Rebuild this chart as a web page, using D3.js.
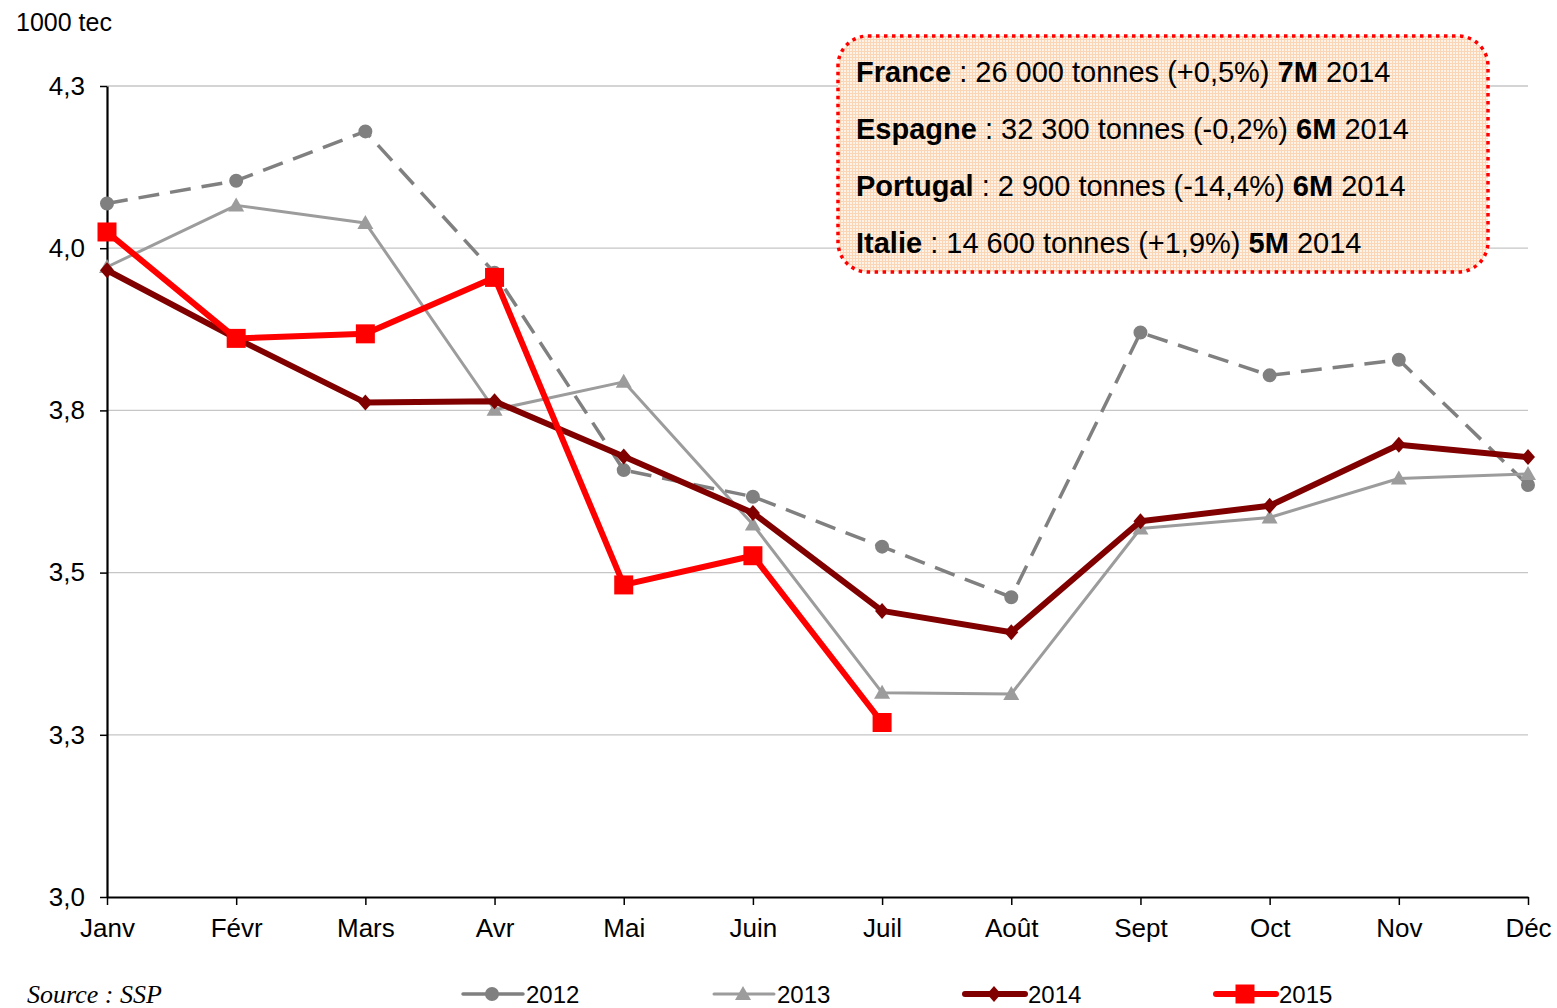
<!DOCTYPE html>
<html>
<head>
<meta charset="utf-8">
<script src="https://cdn.jsdelivr.net/npm/d3@7"></script>
<style>
    body { margin: 0; background: #ffffff; }
    svg { display: block; font-family: "Liberation Sans", Arial, sans-serif; }
</style>
</head>
<body>
<div id="my_dataviz"></div>
<script>
// months on the x axis
var months = ["Janv", "Févr", "Mars", "Avr", "Mai", "Juin", "Juil", "Août", "Sept", "Oct", "Nov", "Déc"]

// monthly values, 1000 tec
var v2012 = [4.069, 4.104, 4.180, 3.962, 3.658, 3.617, 3.540, 3.462, 3.870, 3.804, 3.828, 3.635]
var v2013 = [3.971, 4.066, 4.039, 3.751, 3.794, 3.574, 3.315, 3.313, 3.568, 3.585, 3.645, 3.652]
var v2014 = [3.966, 3.861, 3.762, 3.764, 3.679, 3.592, 3.441, 3.408, 3.579, 3.603, 3.697, 3.678]
var v2015 = [4.025, 3.861, 3.868, 3.955, 3.481, 3.526, 3.269]

// y ticks and their labels
var yTicks = [3.0, 3.25, 3.5, 3.75, 4.0, 4.25]
var yTickLabels = ["3,0", "3,3", "3,5", "3,8", "4,0", "4,3"]

var seriesNames = ["2012", "2013", "2014", "2015"]

// annotation box lines: [bold part, normal part, bold part, normal part]
var notes = [
    ["France", " : 26 000 tonnes (+0,5%) ", "7M", " 2014"],
    ["Espagne", " : 32 300 tonnes (-0,2%) ", "6M", " 2014"],
    ["Portugal", " : 2 900 tonnes (-14,4%) ", "6M", " 2014"],
    ["Italie", " : 14 600 tonnes (+1,9%) ", "5M", " 2014"]
]

var W = 1557, H = 1008
var mLeft = 107, mRight = 1528, mTop = 86, mBottom = 897

var svg = d3.select("#my_dataviz").append("svg")
    .attr("width", W)
    .attr("height", H)

var x = d3.scalePoint().domain(months).range([mLeft, mRight])
var y = d3.scaleLinear().domain([3.0, 4.25]).range([mBottom, mTop])

// horizontal grid
svg.append("g")
    .selectAll("line")
    .data(yTicks.slice(1))
    .enter()
    .append("line")
    .attr("x1", mLeft).attr("x2", mRight)
    .attr("y1", d => y(d)).attr("y2", d => y(d))
    .attr("stroke", "#c6c6c6")
    .attr("stroke-width", 1.3)

// y axis
var yAxis = svg.append("g")
    .attr("transform", "translate(" + mLeft + ",0)")
    .call(d3.axisLeft(y).tickValues(yTicks).tickSize(7).tickPadding(15).tickSizeOuter(0)
        .tickFormat((d, i) => yTickLabels[i]))
yAxis.select(".domain").attr("stroke", "#000").attr("stroke-width", 2.2)
yAxis.selectAll(".tick line").attr("stroke", "#000").attr("stroke-width", 1.5)
yAxis.selectAll("text").style("font-size", "26px").attr("fill", "#000")

// x axis
var xAxis = svg.append("g")
    .attr("transform", "translate(0," + mBottom + ")")
    .call(d3.axisBottom(x).tickSize(8).tickPadding(14).tickSizeOuter(0))
xAxis.select(".domain").attr("stroke", "#000").attr("stroke-width", 2.2)
xAxis.selectAll(".tick line").attr("stroke", "#000").attr("stroke-width", 1.5)
xAxis.selectAll("text").style("font-size", "26px").attr("fill", "#000")

// unit label
svg.append("text")
    .attr("x", 16)
    .attr("y", 31)
    .style("font-size", "25px")
    .text("1000 tec")

// series styles
var styles = {
    "2012": { values: v2012, color: "#808080", width: 3.5, dash: "21,11", marker: "circle" },
    "2013": { values: v2013, color: "#9c9c9c", width: 3, dash: null, marker: "triangle" },
    "2014": { values: v2014, color: "#800000", width: 6, dash: null, marker: "diamond" },
    "2015": { values: v2015, color: "#ff0000", width: 6, dash: null, marker: "square" }
}

function markerPath(type) {
    if (type == "circle") return d3.symbol(d3.symbolCircle, 154)()
    if (type == "triangle") return "M0,-8L8,6L-8,6Z"
    if (type == "diamond") return "M0,-8L7,0L0,8L-7,0Z"
    return "M-9.5,-9.5H9.5V9.5H-9.5Z"
}

var line = d3.line()
    .x((d, i) => x(months[i]))
    .y(d => y(d))

seriesNames.forEach(function(name) {
    var s = styles[name]
    var g = svg.append("g")
    g.append("path")
        .datum(s.values)
        .attr("d", line)
        .attr("fill", "none")
        .attr("stroke", s.color)
        .attr("stroke-width", s.width)
        .attr("stroke-dasharray", s.dash)
        .attr("stroke-linejoin", "round")
    g.selectAll(".pt")
        .data(s.values)
        .enter()
        .append("path")
        .attr("class", "pt")
        .attr("transform", (d, i) => "translate(" + x(months[i]) + "," + y(d) + ")")
        .attr("d", markerPath(s.marker))
        .attr("fill", s.color)
})

// annotation box
var defs = svg.append("defs")
var pat = defs.append("pattern")
    .attr("id", "peach")
    .attr("width", 3).attr("height", 3)
    .attr("patternUnits", "userSpaceOnUse")
pat.append("rect").attr("width", 3).attr("height", 3).attr("fill", "#fff2e6")
pat.append("path").attr("d", "M0,0.5H3M0.5,0V3").attr("stroke", "#fbd6b6").attr("stroke-width", 1)

svg.append("rect")
    .attr("x", 838).attr("y", 36)
    .attr("width", 650).attr("height", 236)
    .attr("rx", 30).attr("ry", 30)
    .attr("fill", "url(#peach)")
    .attr("stroke", "#ff0000")
    .attr("stroke-width", 3.5)
    .attr("stroke-dasharray", "3.5,4.5")

var noteText = svg.append("g")
    .selectAll("text")
    .data(notes)
    .enter()
    .append("text")
    .attr("x", 856)
    .attr("y", (d, i) => 82 + i * 57)
    .style("font-size", "29px")
noteText.each(function(d) {
    var t = d3.select(this)
    d.forEach(function(part, j) {
        t.append("tspan")
            .style("font-weight", j % 2 == 0 ? "bold" : "normal")
            .text(part)
    })
})

// source
svg.append("text")
    .attr("x", 27)
    .attr("y", 1003)
    .style("font-family", "'Liberation Serif', 'Times New Roman', serif")
    .style("font-style", "italic")
    .style("font-size", "26px")
    .text("Source : SSP")

// legend
var legend = svg.append("g")
    .selectAll("g")
    .data(seriesNames)
    .enter()
    .append("g")
    .attr("transform", (d, i) => "translate(" + (463 + i * 251) + ",994)")
legend.append("line")
    .attr("x1", 0).attr("x2", 60)
    .attr("stroke", d => styles[d].color)
    .attr("stroke-width", d => styles[d].width)
    .attr("stroke-linecap", "round")
legend.append("path")
    .attr("transform", "translate(29,0)")
    .attr("d", d => markerPath(styles[d].marker))
    .attr("fill", d => styles[d].color)
legend.append("text")
    .attr("x", 63)
    .attr("y", 9)
    .style("font-size", "24px")
    .text(d => d)
</script>
</body>
</html>
